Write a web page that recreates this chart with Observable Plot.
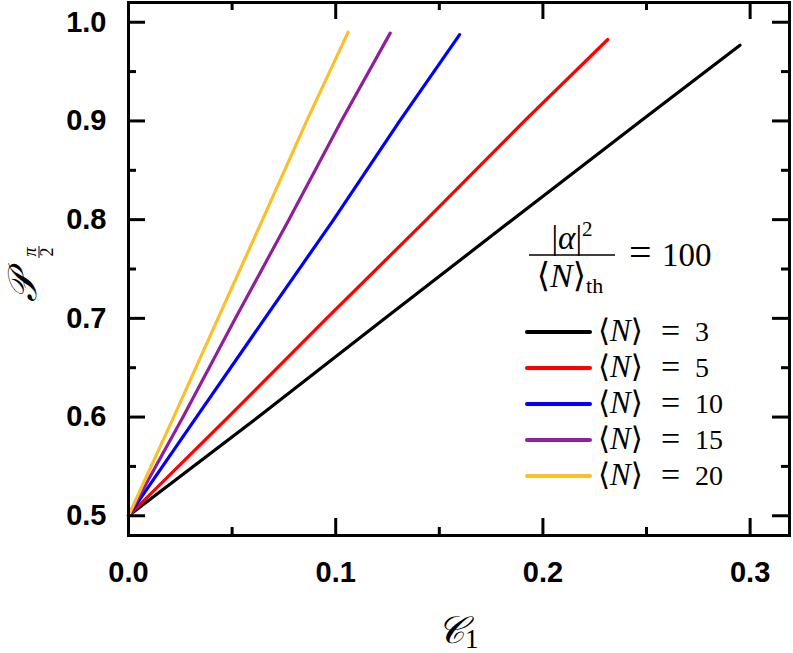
<!DOCTYPE html>
<html>
<head>
<meta charset="utf-8">
<script src="https://cdn.jsdelivr.net/npm/d3@7"></script>
<script src="https://cdn.jsdelivr.net/npm/@observablehq/plot@0.6"></script>
<style>
  html, body { margin: 0; padding: 0; background: #fff; }
  #chart { width: 793px; height: 653px; }
</style>
</head>
<body>
<div id="chart"></div>
<script>
// ---- data ----
const seriesN = [3, 5, 10, 15, 20];
const seriesColors = ["#000000", "#ff0000", "#0000ff", "#911e9f", "#fbbf2a"];

// C1 values at P = 0.5, 0.6, 0.7, 0.8, 0.9 and the end point of each curve
const c1_N3  = [0, 0.0626, 0.1238, 0.1853, 0.2472, 0.2951];
const p_N3   = [0.5, 0.6, 0.7, 0.8, 0.9, 0.9767];
const c1_N5  = [0, 0.0481, 0.0956, 0.1438, 0.1911, 0.2313];
const p_N5   = [0.5, 0.6, 0.7, 0.8, 0.9, 0.9825];
const c1_N10 = [0, 0.0328, 0.0658, 0.0990, 0.1309, 0.1598];
const p_N10  = [0.5, 0.6, 0.7, 0.8, 0.9, 0.9875];
const c1_N15 = [0, 0.0263, 0.0516, 0.0774, 0.1027, 0.1263];
const p_N15  = [0.5, 0.6, 0.7, 0.8, 0.9, 0.989];
const c1_N20 = [0, 0.0218, 0.0432, 0.0647, 0.0860, 0.1060];
const p_N20  = [0.5, 0.6, 0.7, 0.8, 0.9, 0.990];

const xMajor = [0, 0.1, 0.2, 0.3];
const xMinor = [0.05, 0.15, 0.25];
const yMajor = [0.5, 0.6, 0.7, 0.8, 0.9, 1.0];
const yMinor = [0.55, 0.65, 0.75, 0.85, 0.95];
const xTickLabels = ["0.0", "0.1", "0.2", "0.3"];
const yTickLabels = ["0.5", "0.6", "0.7", "0.8", "0.9", "1.0"];

const ratioLabel = "100";

// ---- build table ----
const cols = [[c1_N3, p_N3], [c1_N5, p_N5], [c1_N10, p_N10], [c1_N15, p_N15], [c1_N20, p_N20]];
const rows = [];
cols.forEach(([cs, ps], i) => cs.forEach((c, j) => rows.push({N: seriesN[i], c, p: ps[j]})));

const W = 793, H = 653;
const mL = 128, mR = 4, mT = 2, mB = 118;
const plotW = W - mL - mR, plotH = H - mT - mB;
const majorLen = 17, minorLen = 8;
const tickW = 3;

const chart = Plot.plot({
  width: W, height: H,
  marginLeft: mL, marginRight: mR, marginTop: mT, marginBottom: mB,
  style: {background: "#fff", overflow: "visible"},
  x: {domain: [0, 0.319]},
  y: {domain: [0.48, 1.02]},
  color: {type: "ordinal", domain: seriesN, range: seriesColors},
  marks: [
    Plot.line(rows, {x: "c", y: "p", z: "N", stroke: "N", strokeWidth: 3.2, strokeLinecap: "round", strokeLinejoin: "round"}),
    // inward ticks on all four sides
    Plot.ruleX(xMajor, {x: d => d, insetTop: plotH - majorLen, stroke: "#000", strokeWidth: tickW}),
    Plot.ruleX(xMinor, {x: d => d, insetTop: plotH - minorLen, stroke: "#000", strokeWidth: tickW}),
    Plot.ruleX(xMajor, {x: d => d, insetBottom: plotH - majorLen, stroke: "#000", strokeWidth: tickW}),
    Plot.ruleX(xMinor, {x: d => d, insetBottom: plotH - minorLen, stroke: "#000", strokeWidth: tickW}),
    Plot.ruleY(yMajor, {y: d => d, insetRight: plotW - majorLen, stroke: "#000", strokeWidth: tickW}),
    Plot.ruleY(yMinor, {y: d => d, insetRight: plotW - minorLen, stroke: "#000", strokeWidth: tickW}),
    Plot.ruleY(yMajor, {y: d => d, insetLeft: plotW - majorLen, stroke: "#000", strokeWidth: tickW}),
    Plot.ruleY(yMinor, {y: d => d, insetLeft: plotW - minorLen, stroke: "#000", strokeWidth: tickW}),
    Plot.frame({stroke: "#000", strokeWidth: 3}),
    Plot.axisX({ticks: xMajor, tickSize: 0, tickPadding: 26, label: null,
      tickFormat: d => xTickLabels[xMajor.indexOf(d)],
      fontSize: 29, fontWeight: "bold", fontFamily: "Liberation Sans, Arial, sans-serif", fill: "#000"}),
    Plot.axisY({ticks: yMajor, tickSize: 0, tickPadding: 22, label: null,
      tickFormat: d => yTickLabels[yMajor.indexOf(d)],
      fontSize: 29, fontWeight: "bold", fontFamily: "Liberation Sans, Arial, sans-serif", fill: "#000"})
  ]
});

document.getElementById("chart").appendChild(chart);

// ---- annotations: axis titles, ratio note, legend ----
const svg = d3.select(chart);
const serif = "'Liberation Serif', 'DejaVu Serif', serif";
const txt = (sel) => sel.append("text").attr("text-anchor", "start").attr("font-family", serif).attr("fill", "#000");

// x-axis title  C_1
const xt = txt(svg).attr("x", 437).attr("y", 643);
xt.append("tspan").attr("font-size", 38).attr("font-style", "italic").text("𝒞");
xt.append("tspan").attr("font-size", 27).attr("dy", 5).text("1");

// y-axis title  P_{π/2}
const yg = svg.append("g").attr("transform", "translate(36,302) rotate(-90)");
txt(yg).attr("x", 0).attr("y", 0).attr("font-size", 40).attr("font-style", "italic").text("𝒫");
txt(yg).attr("x", 50).attr("y", 0).attr("text-anchor", "middle")
  .attr("font-size", 18).attr("font-style", "italic").text("π");
yg.append("line").attr("x1", 44).attr("x2", 56).attr("y1", 3).attr("y2", 3)
  .attr("stroke", "#000").attr("stroke-width", 1);
txt(yg).attr("x", 50).attr("y", 17).attr("text-anchor", "middle").attr("font-size", 18).text("2");

// ratio note  |α|^2 / <N>_th = 100
const num = txt(svg).attr("x", 572).attr("y", 249).attr("text-anchor", "middle").attr("font-size", 33);
num.append("tspan").text("|");
num.append("tspan").attr("font-style", "italic").text("α");
num.append("tspan").text("|");
num.append("tspan").attr("font-size", 21).attr("dy", -13).text("2");
svg.append("line").attr("x1", 529).attr("x2", 615).attr("y1", 255).attr("y2", 255)
  .attr("stroke", "#000").attr("stroke-width", 1.6);
const den = txt(svg).attr("x", 570).attr("y", 287).attr("text-anchor", "middle").attr("font-size", 34);
den.append("tspan").text("⟨");
den.append("tspan").attr("font-style", "italic").text("N");
den.append("tspan").text("⟩");
den.append("tspan").attr("font-size", 22).attr("dy", 6).text("th");
const eqR = txt(svg).attr("y", 266);
eqR.append("tspan").attr("x", 629).attr("font-size", 40).text("=");
eqR.append("tspan").attr("x", 662).attr("font-size", 33).text(ratioLabel);

// legend
const legY0 = 332, legStep = 36;
seriesN.forEach((n, i) => {
  const y = legY0 + i * legStep;
  svg.append("line").attr("x1", 527).attr("x2", 590).attr("y1", y).attr("y2", y)
    .attr("stroke", seriesColors[i]).attr("stroke-width", 4).attr("stroke-linecap", "round");
  const t = txt(svg).attr("x", 598).attr("y", y + 9).attr("font-size", 31);
  t.append("tspan").text("⟨");
  t.append("tspan").attr("font-style", "italic").text("N");
  t.append("tspan").text("⟩");
  t.append("tspan").attr("x", 661).attr("font-size", 34).attr("dy", 1).text("=");
  t.append("tspan").attr("x", 695).attr("font-size", 28).attr("dy", -1).text(String(n));
});
</script>
</body>
</html>
